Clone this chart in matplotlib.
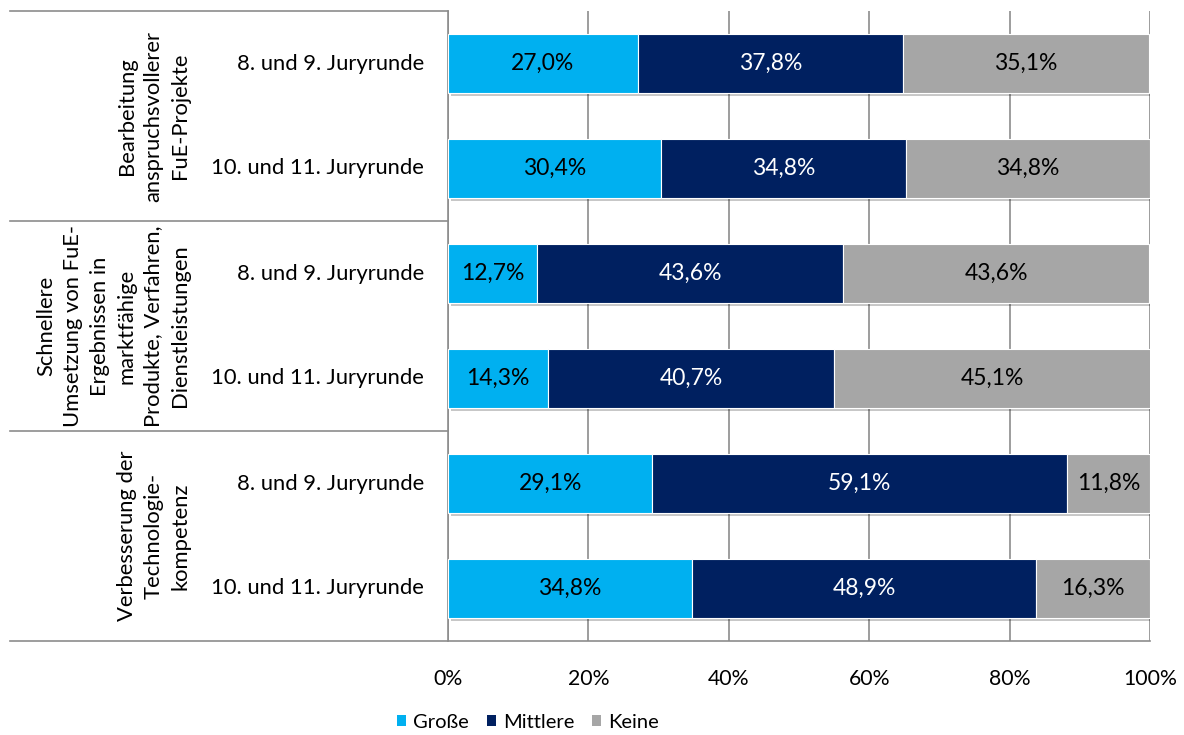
import matplotlib
matplotlib.use("Agg")
import matplotlib.pyplot as plt
import matplotlib.patheffects as pe
from matplotlib.lines import Line2D
from matplotlib.patches import Patch

plt.rcParams['font.family'] = ['Lato', 'DejaVu Sans']

# Data
groups = [
    "Bearbeitung\nanspruchsvollerer\nFuE-Projekte",
    "Schnellere\nUmsetzung von FuE-\nErgebnissen in\nmarktfähige\nProdukte, Verfahren,\nDienstleistungen",
    "Verbesserung der\nTechnologie-\nkompetenz",
]
rounds = ["8. und 9. Juryrunde", "10. und 11. Juryrunde"]
series = ["Große", "Mittlere", "Keine"]
grosse = [27.0, 30.4, 12.7, 14.3, 29.1, 34.8]
mittlere = [37.8, 34.8, 43.6, 40.7, 59.1, 48.9]
keine = [35.1, 34.8, 43.6, 45.1, 11.8, 16.3]
x_ticks = [0, 20, 40, 60, 80, 100]
x_ticklabels = ["0%", "20%", "40%", "60%", "80%", "100%"]

colors = ["#00B0F0", "#002060", "#A6A6A6"]
text_colors = ["black", "white", "black"]
grid_color = "#8C8C8C"
fs = 15.8

W, H = 1184, 735
fig = plt.figure(figsize=(W / 100, H / 100), dpi=100)
ax = fig.add_axes([448 / W, 1 - 641 / H, (1150 - 448) / W, (641 - 11) / H])

n = len(grosse)
ypos = list(range(n))
left = [0.0] * n
shadow = [pe.SimplePatchShadow(offset=(2, -2), shadow_rgbFace="#000000", alpha=0.22), pe.Normal()]
for vals, col, tcol in zip([grosse, mittlere, keine], colors, text_colors):
    bars = ax.barh(ypos, vals, left=left, height=0.57, color=col,
                   edgecolor="white", linewidth=0.8, zorder=3)
    for b in bars:
        b.set_path_effects(shadow)
    for i, v in enumerate(vals):
        ax.text(left[i] + v / 2, i, f"{v:.1f}%".replace(".", ","),
                ha="center", va="center", color=tcol, fontsize=16.5, zorder=4)
    left = [l + v for l, v in zip(left, vals)]

ax.set_xlim(0, 100)
ax.set_ylim(n - 0.5, -0.5)
ax.set_xticks(x_ticks)
ax.set_xticklabels(x_ticklabels, fontsize=15.3)
ax.tick_params(axis="x", length=0, pad=20)
ax.set_yticks([])
for s in ["top", "right", "bottom"]:
    ax.spines[s].set_visible(False)
ax.spines["left"].set_color(grid_color)
ax.spines["left"].set_linewidth(1.2)
ax.xaxis.grid(True, color=grid_color, linewidth=1.2, zorder=0)
ax.set_axisbelow(True)

# Category axis frame lines (left of the plot area)
x_start = 10 / W
x_axis = 448 / W
for yb in [11, 221, 431]:
    fig.add_artist(Line2D([x_start, x_axis], [1 - yb / H, 1 - yb / H],
                          color=grid_color, linewidth=1.2))
fig.add_artist(Line2D([x_start, 1150 / W], [1 - 641 / H, 1 - 641 / H],
                      color=grid_color, linewidth=1.2))

# Round labels
for i in range(n):
    ax.annotate(rounds[i % 2], xy=(0, i), xycoords=("axes fraction", "data"),
                xytext=(424 - 448, 0), textcoords="offset pixels",
                ha="right", va="center", fontsize=fs, annotation_clip=False)

# Group labels, rotated
for g, label in enumerate(groups):
    yc = 2 * g + 0.5
    ax.annotate(label, xy=(0, yc), xycoords=("axes fraction", "data"),
                xytext=(190 - 448, 0), textcoords="offset pixels",
                rotation=90, ha="right", va="center", multialignment="center",
                fontsize=fs, linespacing=1.42, annotation_clip=False)

handles = [Patch(facecolor=c, edgecolor="none") for c in colors]
fig.legend(handles, series, loc="center", bbox_to_anchor=(528 / W, 1 - 722 / H),
           ncol=3, frameon=False, fontsize=14.5, handlelength=0.45, handleheight=0.45,
           handletextpad=0.35, columnspacing=0.9)

fig.savefig("out.png", dpi=100)
